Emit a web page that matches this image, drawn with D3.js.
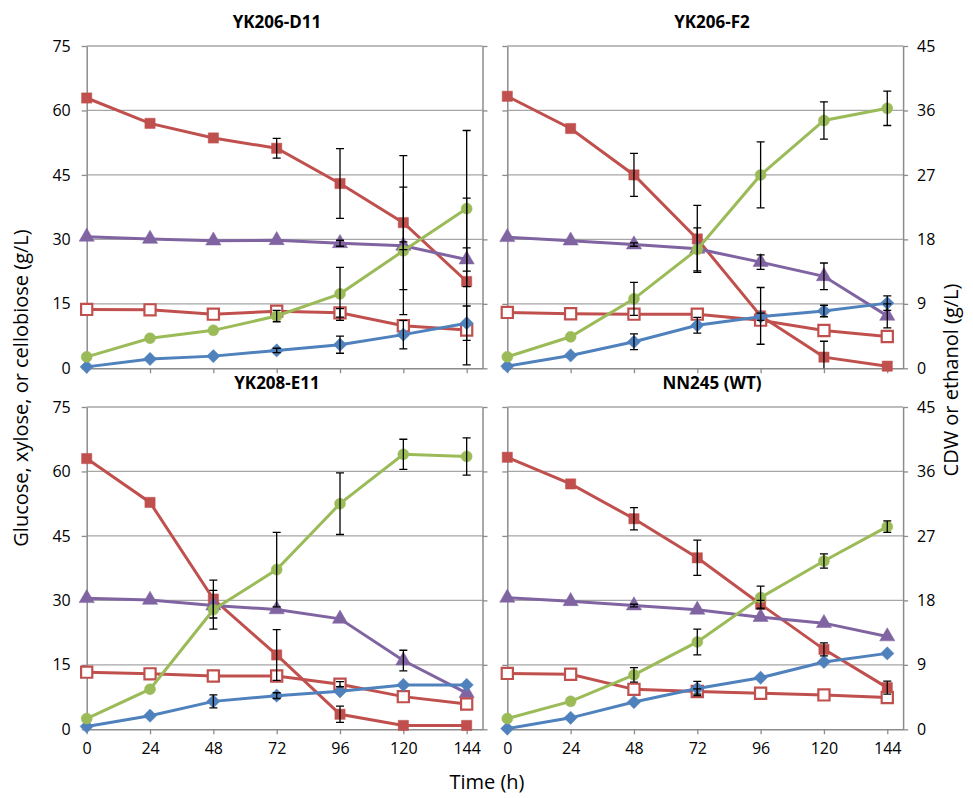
<!DOCTYPE html>
<html><head><meta charset="utf-8">
<title>Sugar consumption, ethanol and CDW</title>
<script src="https://d3js.org/d3.v7.min.js"></script>
<style>
  body { margin: 0; background: #fff; }
  text { font-family: "Open Sans", sans-serif; fill: #000; }
</style>
</head>
<body>
<svg width="973" height="798"></svg>
<script>
const times = [0, 24, 48, 72, 96, 120, 144];
const strains = ["YK206-D11", "YK206-F2", "YK208-E11", "NN245 (WT)"];
const leftTicks = [0, 15, 30, 45, 60, 75];
const rightTicks = [0, 9, 18, 27, 36, 45];

// left axis (g/L), one row per strain
const glucose = [
  [62.9, 57.0, 53.6, 51.2, 43.0, 33.9, 20.2],
  [63.3, 55.8, 45.0, 30.1, 12.2, 2.6, 0.5],
  [63.0, 52.8, 30.3, 17.3, 3.5, 0.9, 0.9],
  [63.3, 57.1, 49.0, 39.9, 29.1, 18.6, 9.7]];
const glucoseErr = [
  [0, 0, 0, 2.3, 8.1, 15.6, 19.4],
  [0, 0, 5.0, 7.8, 6.6, 3.7, 0],
  [0, 0, 4.4, 5.9, 1.9, 0, 0],
  [0, 0, 2.6, 4.1, 0.9, 1.5, 1.5]];
const xylose = [
  [30.6, 30.1, 29.7, 29.8, 29.1, 28.5, 25.3],
  [30.5, 29.7, 28.8, 27.8, 24.7, 21.4, 12.2],
  [30.5, 30.1, 28.8, 27.9, 25.7, 16.0, 8.4],
  [30.6, 29.8, 28.8, 27.8, 26.1, 24.7, 21.6]];
const xyloseErr = [
  [0, 0, 0, 0, 0.7, 0.9, 2.7],
  [0, 0, 0.4, 0, 1.7, 3.1, 2.8],
  [0, 0, 0, 0, 0, 2.4, 0],
  [0, 0, 0.3, 0, 0, 0, 0]];
const cellobiose = [
  [13.7, 13.6, 12.6, 13.3, 12.9, 9.9, 8.9],
  [13.0, 12.7, 12.6, 12.6, 11.2, 8.8, 7.4],
  [13.3, 12.9, 12.4, 12.4, 10.5, 7.6, 5.9],
  [13.0, 12.8, 9.3, 8.8, 8.4, 8.0, 7.4]];
const cellobioseErr = [
  [0, 0, 0, 0, 1.0, 0, 0],
  [0, 0, 0, 0, 0, 0, 0],
  [0, 0, 0, 0, 0.6, 0, 0],
  [0, 0, 0, 0.6, 0, 0, 0]];

// right axis (g/L)
const ethanol = [
  [1.6, 4.2, 5.3, 7.3, 10.4, 16.4, 22.3],
  [1.6, 4.4, 9.7, 16.6, 27.0, 34.6, 36.3],
  [1.5, 5.6, 16.7, 22.3, 31.5, 38.4, 38.1],
  [1.5, 3.9, 7.6, 12.2, 18.4, 23.5, 28.3]];
const ethanolErr = [
  [0, 0, 0, 0.8, 3.7, 8.9, 10.9],
  [0, 0, 2.3, 3.0, 4.6, 2.6, 2.4],
  [0, 0, 2.7, 5.2, 4.3, 2.1, 2.6],
  [0, 0, 1.0, 1.8, 1.6, 1.0, 0.8]];
const cdw = [
  [0.2, 1.3, 1.7, 2.5, 3.3, 4.7, 6.3],
  [0.3, 1.8, 3.7, 6.0, 7.2, 8.0, 9.1],
  [0.4, 1.9, 3.9, 4.7, 5.3, 6.2, 6.2],
  [0.1, 1.6, 3.8, 5.7, 7.2, 9.4, 10.6]];
const cdwErr = [
  [0, 0, 0, 0.3, 1.2, 2.0, 2.4],
  [0, 0, 1.1, 1.1, 0.5, 0.8, 1.0],
  [0, 0, 0.9, 0.4, 0, 0, 0],
  [0, 0, 0, 1.0, 0, 0, 0]];

const series = [
  {vals: glucose, err: glucoseErr, axis: "L", color: "#C0504D", shape: "square"},
  {vals: xylose, err: xyloseErr, axis: "L", color: "#8064A2", shape: "triangle"},
  {vals: cellobiose, err: cellobioseErr, axis: "L", color: "#C0504D", shape: "open"},
  {vals: cdw, err: cdwErr, axis: "R", color: "#4F81BD", shape: "diamond"},
  {vals: ethanol, err: ethanolErr, axis: "R", color: "#9BBB59", shape: "circle"}
];

const svg = d3.select("svg");
const cols = [86.7, 507.3], rows = [46, 407];
const w = 395.8, h = 322.3;
const axisColor = "#8c8c8c", gridColor = "#a6a6a6";

const x = d3.scaleLinear().domain([0, 150]).range([0, w]);
const yL = d3.scaleLinear().domain([0, 75]).range([h, 0]);
const yR = d3.scaleLinear().domain([0, 45]).range([h, 0]);

const markerPath = {
  square: d3.symbol(d3.symbolSquare, 105)(),
  open: d3.symbol(d3.symbolSquare, 125)(),
  triangle: d3.symbol(d3.symbolTriangle, 100)(),
  diamond: d3.symbol(d3.symbolSquare, 88)(),
  circle: d3.symbol(d3.symbolCircle, 95)()
};

strains.forEach((name, p) => {
  const col = p % 2, row = Math.floor(p / 2);
  const g = svg.append("g").attr("transform", `translate(${cols[col]},${rows[row]})`);

  // gridlines
  g.append("g").selectAll("line").data(leftTicks.slice(1)).join("line")
    .attr("x1", 0).attr("x2", w)
    .attr("y1", d => yL(d)).attr("y2", d => yL(d))
    .attr("stroke", gridColor).attr("stroke-width", 1.3);

  const styleAxis = sel => {
    sel.select(".domain").attr("stroke", axisColor).attr("stroke-width", 1.5);
    sel.selectAll(".tick line").attr("stroke", axisColor).attr("stroke-width", 1.3);
    sel.selectAll("text").style("font-size", "16px").attr("fill", "#000");
  };

  g.append("g")
    .call(d3.axisLeft(yL).tickValues(leftTicks).tickSize(5).tickSizeOuter(0).tickPadding(11)
      .tickFormat(col === 0 ? d3.format("d") : () => ""))
    .call(styleAxis);

  g.append("g").attr("transform", `translate(${w},0)`)
    .call(d3.axisRight(yR).tickValues(rightTicks).tickSize(5).tickSizeOuter(0).tickPadding(9)
      .tickFormat(col === 1 ? d3.format("d") : () => ""))
    .call(styleAxis);

  g.append("g").attr("transform", `translate(0,${h})`)
    .call(d3.axisBottom(x).tickValues(times).tickSize(5).tickSizeOuter(0).tickPadding(8)
      .tickFormat(row === 1 ? d3.format("d") : () => ""))
    .call(styleAxis);

  g.append("text")
    .attr("x", 277 - cols[col] + col * 435).attr("y", -18)
    .attr("text-anchor", "middle")
    .style("font-size", "17px").style("font-weight", "bold")
    .text(name);

  const clipId = "clip" + p;
  g.append("clipPath").attr("id", clipId).append("rect")
    .attr("x", -10).attr("y", -2).attr("width", w + 20).attr("height", h + 2);

  const errLayer = [];
  series.forEach(s => {
    const y = s.axis === "L" ? yL : yR;
    const pts = times.map((t, i) => ({t, v: s.vals[p][i], e: s.err[p][i]}));
    g.append("path").datum(pts)
      .attr("fill", "none").attr("stroke", s.color).attr("stroke-width", 3)
      .attr("d", d3.line().x(d => x(d.t)).y(d => y(d.v)));
    g.append("g").selectAll("path").data(pts).join("path")
      .attr("d", markerPath[s.shape])
      .attr("transform", d => `translate(${x(d.t)},${y(d.v)})` + (s.shape === "diamond" ? " rotate(45)" : ""))
      .attr("fill", s.shape === "open" ? "#fff" : s.color)
      .attr("stroke", s.color)
      .attr("stroke-width", s.shape === "open" ? 2.2 : 0.5);
    pts.filter(d => d.e > 0).forEach(d => errLayer.push({xp: x(d.t), lo: y(d.v - d.e), hi: y(d.v + d.e)}));
  });

  const eb = g.append("g").attr("clip-path", `url(#${clipId})`)
    .attr("stroke", "#000").attr("stroke-width", 1.3);
  errLayer.forEach(d => {
    eb.append("line").attr("x1", d.xp).attr("x2", d.xp).attr("y1", d.lo).attr("y2", d.hi);
    [d.lo, d.hi].forEach(yy => eb.append("line")
      .attr("x1", d.xp - 4).attr("x2", d.xp + 4).attr("y1", yy).attr("y2", yy));
  });
});

svg.append("text")
  .attr("transform", "translate(28,388) rotate(-90)")
  .attr("text-anchor", "middle").style("font-size", "20px")
  .text("Glucose, xylose, or cellobiose (g/L)");

svg.append("text")
  .attr("transform", "translate(958,380) rotate(-90)")
  .attr("text-anchor", "middle").style("font-size", "20px")
  .text("CDW or ethanol (g/L)");

svg.append("text")
  .attr("x", 487).attr("y", 789)
  .attr("text-anchor", "middle").style("font-size", "20px")
  .text("Time (h)");
</script>
</body></html>
